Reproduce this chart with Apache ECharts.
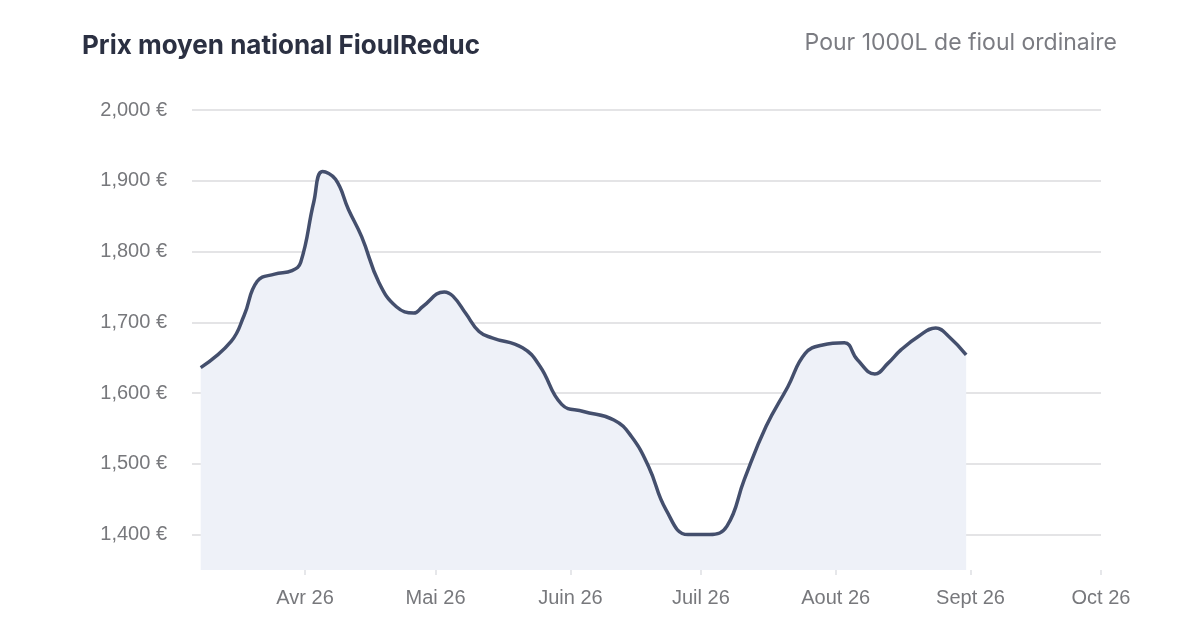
<!DOCTYPE html>
<html>
<head>
<meta charset="utf-8">
<script src="https://cdn.jsdelivr.net/npm/echarts@6/dist/echarts.min.js"></script>
<style>html,body{margin:0;padding:0;background:#fff;}#c{width:1200px;height:627px;}</style>
</head>
<body>
<div id="c"></div>
<script>
const dates = ['2026-03-08','2026-03-15','2026-03-18','2026-03-21','2026-03-25','2026-03-29','2026-03-31',
  '2026-04-03','2026-04-05','2026-04-08','2026-04-11','2026-04-14','2026-04-18','2026-04-22',
  '2026-04-26','2026-04-28','2026-05-03','2026-05-05','2026-05-08','2026-05-11','2026-05-14','2026-05-21',
  '2026-05-25','2026-05-30','2026-06-04','2026-06-11','2026-06-15','2026-06-19','2026-06-23','2026-06-28',
  '2026-07-03','2026-07-07','2026-07-11','2026-07-16','2026-07-21','2026-07-25','2026-07-29','2026-08-03',
  '2026-08-06','2026-08-10','2026-08-13','2026-08-16','2026-08-20','2026-08-24','2026-08-27','2026-08-31'];
const prices = [1636,1673,1710,1758,1768,1773,1785,
  1870,1913,1902,1859,1821,1756,1722,
  1713,1722,1743,1737,1712,1687,1678,1664,
  1638,1584,1574,1562,1539,1496,1435,1400,
  1400,1412,1478,1553,1609,1656,1668,1671,
  1647,1627,1642,1661,1680,1692,1680,1654];
const monthNames = ['Janv','Févr','Mars','Avr','Mai','Juin','Juil','Aout','Sept','Oct','Nov','Déc'];
const titleText = 'Prix moyen national FioulReduc';
const subtitleText = 'Pour 1000L de fioul ordinaire';

const chart = echarts.init(document.getElementById('c'));
const gridColors = [];
for (let i = 0; i < 14; i++) gridColors.push(i % 2 === 1 ? '#e4e4e6' : 'rgba(0,0,0,0)');

chart.setOption({
  animation: false,
  backgroundColor: '#ffffff',
  title: [
    { text: titleText, left: 82, top: 33, padding: 0,
      textStyle: { fontFamily: 'Inter', fontWeight: 700, fontSize: 26, color: '#2b3042' } },
    { text: subtitleText, right: 83, top: 32, padding: 0,
      textStyle: { fontFamily: 'Inter', fontWeight: 400, fontSize: 23, color: '#7b7c82' } }
  ],
  grid: { left: 192, right: 99, top: 110, bottom: 57 },
  xAxis: {
    type: 'time',
    min: '2026-03-06',
    max: '2026-10-01',
    splitNumber: 7,
    axisLine: { show: false },
    axisTick: { show: true, length: 5, lineStyle: { color: '#e6e7ea', width: 2 } },
    splitLine: { show: false },
    axisLabel: {
      margin: 18,
      showMaxLabel: true,
      fontFamily: 'Liberation Sans',
      fontSize: 20,
      color: '#77787c',
      formatter: function (v) {
        const d = new Date(v);
        return monthNames[d.getMonth()] + ' ' + String(d.getFullYear()).slice(2);
      }
    }
  },
  yAxis: {
    type: 'value',
    min: 1350,
    max: 2000,
    interval: 50,
    axisLine: { show: false },
    axisTick: { show: false },
    splitLine: { show: true, lineStyle: { color: gridColors, width: 2 } },
    axisLabel: {
      margin: 25,
      fontFamily: 'Liberation Sans',
      fontSize: 20,
      color: '#77787c',
      formatter: function (v) {
        if (v % 100 !== 0) return '';
        return v.toLocaleString('en-US') + ' €';
      }
    }
  },
  series: [{
    type: 'line',
    data: dates.map((d, i) => [d, prices[i]]),
    smooth: 0.45,
    showSymbol: false,
    lineStyle: { color: '#444f6d', width: 3.5 },
    areaStyle: { color: '#eef1f8', opacity: 1 },
    itemStyle: { color: '#444f6d' }
  }]
});
</script>
</body>
</html>
